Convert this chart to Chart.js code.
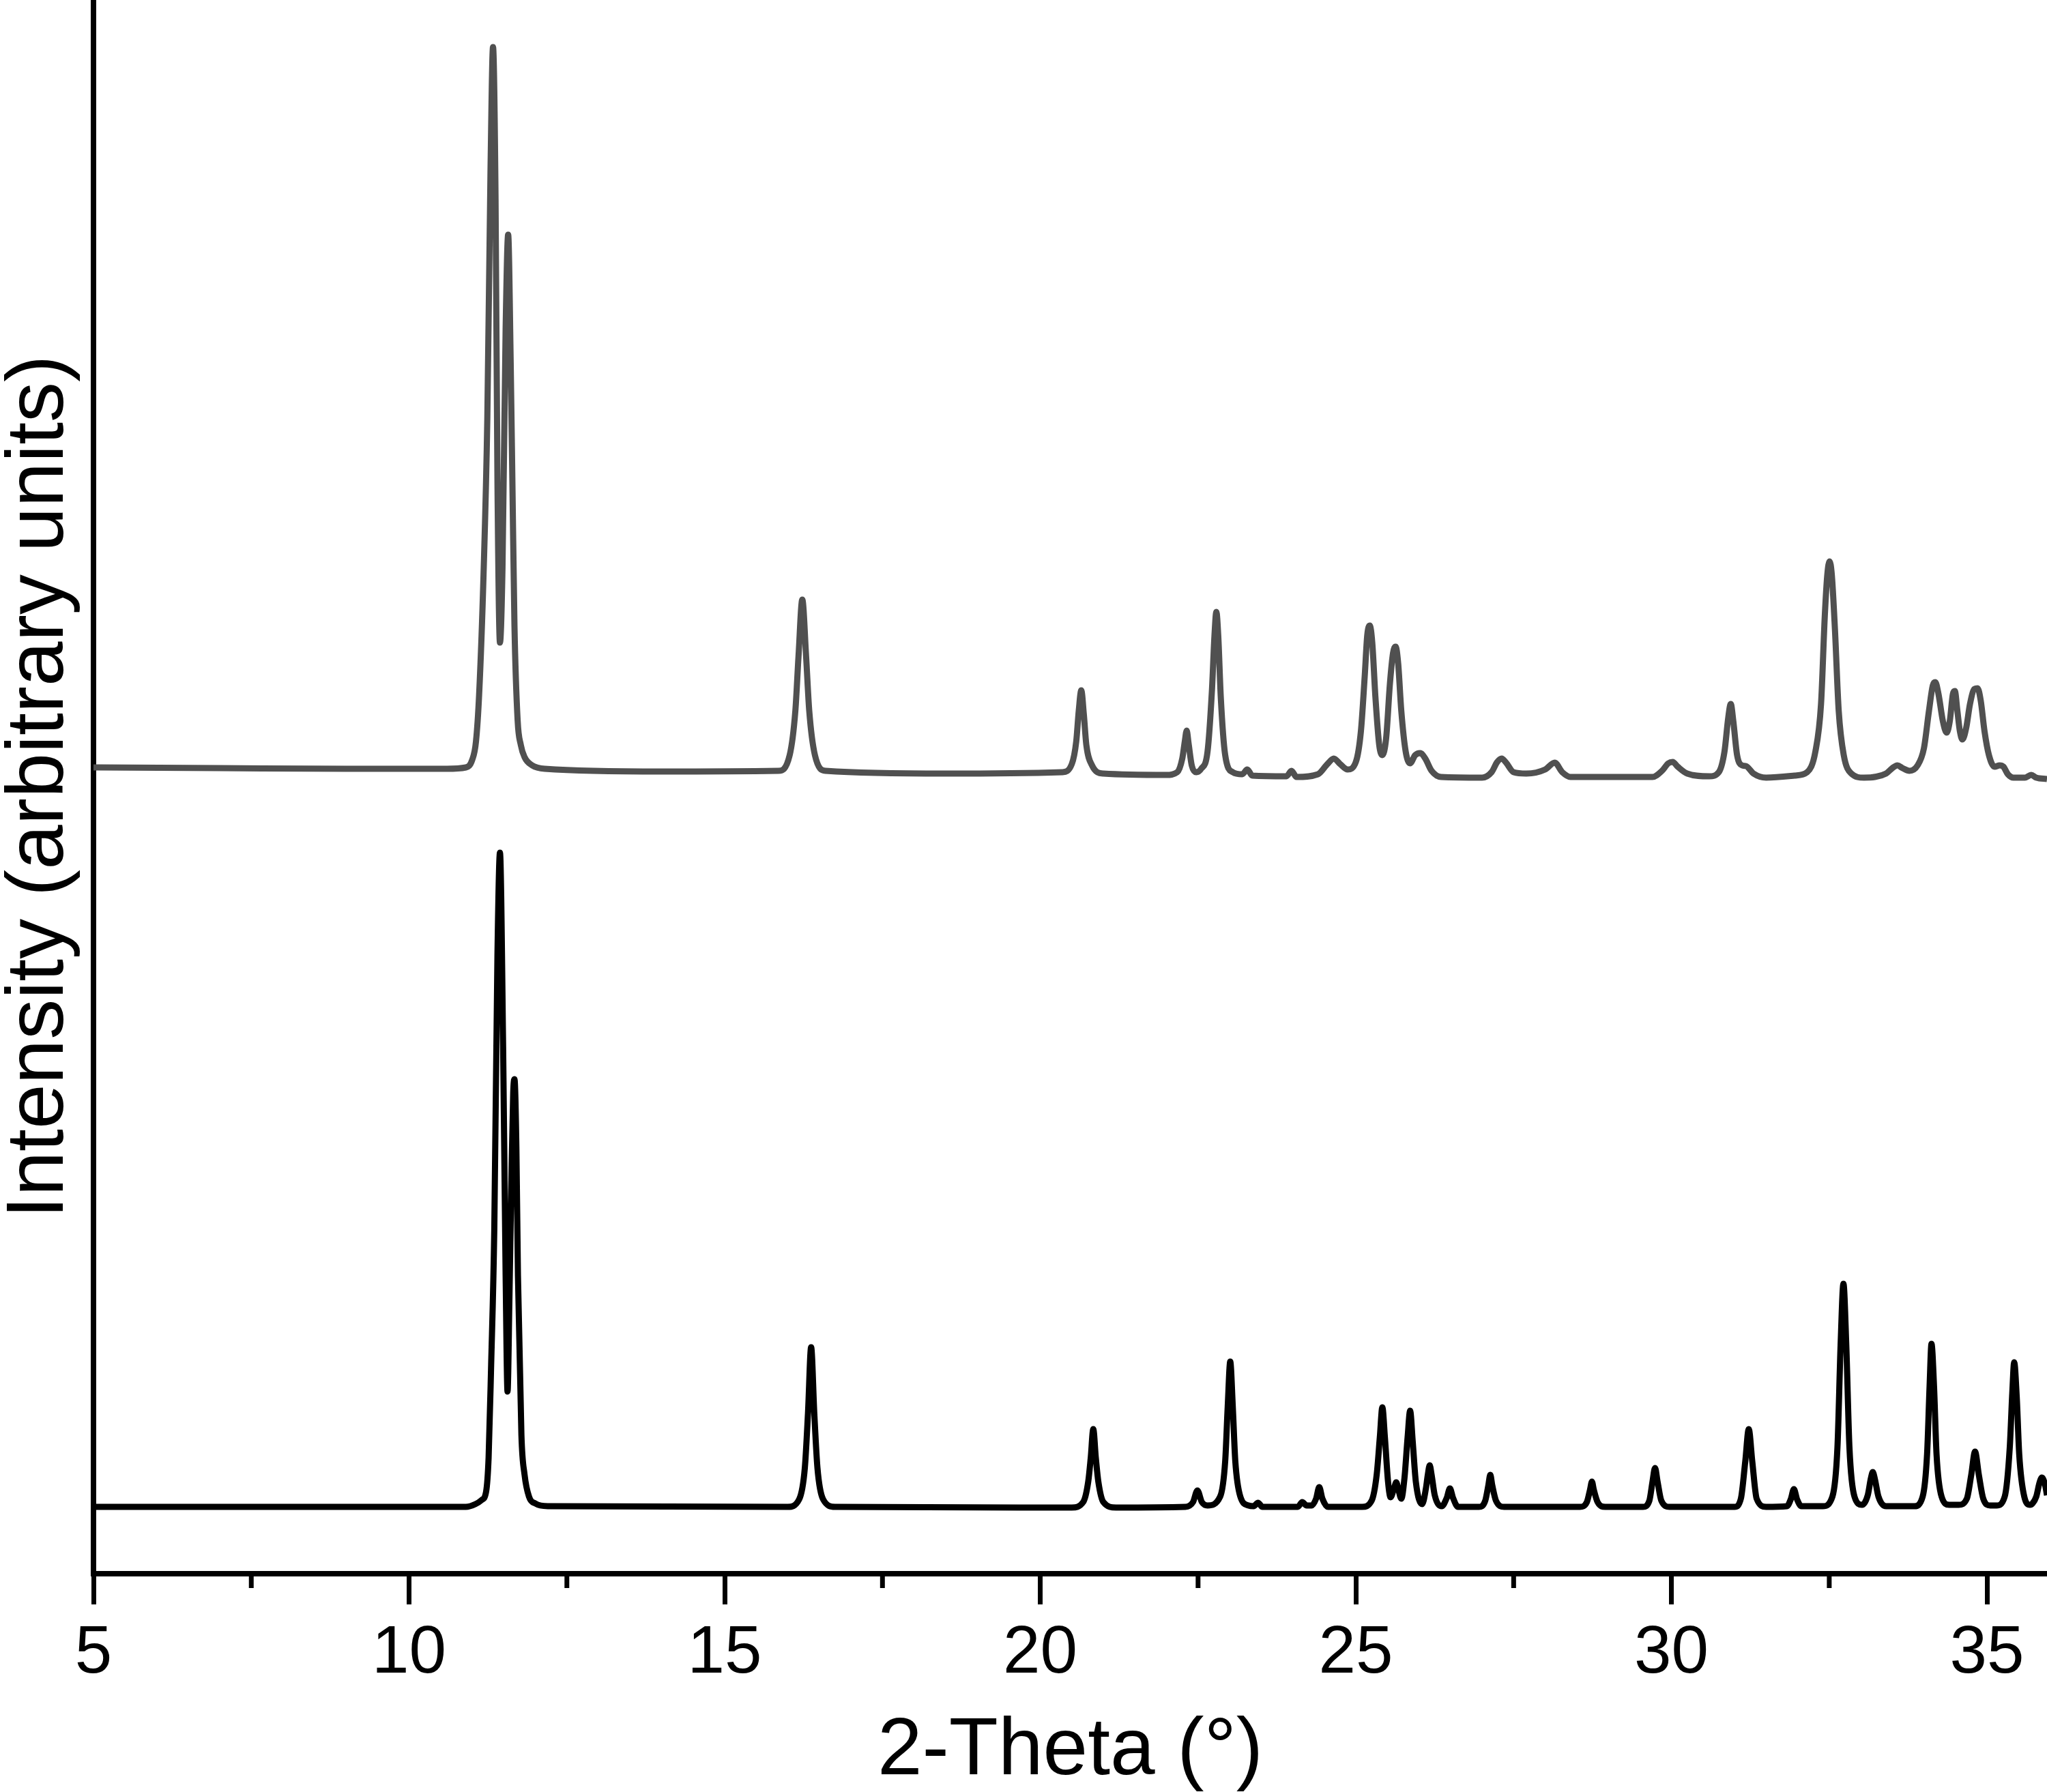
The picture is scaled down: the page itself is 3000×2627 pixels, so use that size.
<!DOCTYPE html>
<html>
<head>
<meta charset="utf-8">
<script src="https://cdn.jsdelivr.net/npm/chart.js@4"></script>
<style>
  html, body { margin: 0; padding: 0; background: #fff; }
  #xrd { display: block; }
</style>
</head>
<body>
<canvas id="xrd" width="3000" height="2627"></canvas>
<script>
// measured pattern (grey, drawn above)
const expTheta = [5.0, 7.0, 9.0, 10.6, 10.9, 11.0, 11.06, 11.11, 11.18, 11.24, 11.29, 11.33, 11.37, 11.40, 11.44, 11.48, 11.53, 11.57, 11.61, 11.64, 11.67, 11.72, 11.77, 11.83, 11.95, 12.15, 14.0,
  15.85, 16.03, 16.12, 16.17, 16.23, 16.29, 16.34, 16.43, 16.6, 18.5,
  20.35, 20.5, 20.57, 20.61, 20.65, 20.69, 20.73, 20.82, 21.0, 22.0,
  22.17, 22.25, 22.29, 22.32, 22.35, 22.40, 22.47, 22.55, 22.65, 22.72, 22.76, 22.79, 22.82, 22.86, 22.93, 23.05, 23.2, 23.28, 23.36, 23.9, 23.98, 24.06,
  24.4, 24.55, 24.65, 24.75, 24.87, 25.0, 25.08, 25.14, 25.18, 25.22, 25.26, 25.31, 25.37, 25.42, 25.48, 25.54, 25.59, 25.63, 25.67, 25.72, 25.79, 25.86, 25.94, 26.02, 26.1, 26.2, 26.35,
  27.0, 27.15, 27.24, 27.31, 27.38, 27.5, 27.7, 28.0, 28.15, 28.27, 28.4, 29.7, 29.85, 29.95, 30.02, 30.1, 30.25, 30.6,
  30.75, 30.84, 30.9, 30.94, 30.98, 31.04, 31.12, 31.18, 31.3, 31.5, 31.95, 32.15, 32.28, 32.37, 32.43, 32.47, 32.505, 32.54, 32.59, 32.65, 32.73, 32.85, 33.05,
  33.4, 33.5, 33.58, 33.66, 33.77, 33.9, 34.0, 34.08, 34.14, 34.18, 34.23, 34.3, 34.36, 34.41, 34.46, 34.49, 34.53, 34.57, 34.61, 34.67, 34.73, 34.8, 34.85, 34.9, 34.96, 35.03,
  35.12, 35.2, 35.26, 35.33, 35.42, 35.6, 35.7, 35.78, 35.95];
const expIntensity = [1177, 1176, 1175, 1175, 1177, 1188, 1215, 1284, 1460, 1690, 2050, 2233, 2010, 1600, 1360, 1470, 1820, 1958, 1770, 1575, 1384, 1246, 1210, 1192, 1180, 1175, 1171,
  1172, 1195, 1260, 1340, 1423, 1340, 1260, 1195, 1172, 1168,
  1170, 1182, 1215, 1260, 1290, 1255, 1210, 1180, 1168, 1166,
  1170, 1190, 1215, 1231, 1212, 1180, 1170, 1175, 1200, 1290, 1370, 1405, 1370, 1280, 1195, 1170, 1167, 1174, 1165, 1164, 1172, 1163,
  1167, 1182, 1190, 1182, 1174, 1185, 1230, 1310, 1370, 1385, 1360, 1280, 1210, 1195, 1220, 1300, 1345, 1354, 1330, 1260, 1200, 1183, 1195, 1198, 1190, 1172, 1163,
  1162, 1170, 1185, 1190, 1184, 1170, 1168, 1174, 1184, 1170, 1163, 1163, 1172, 1183, 1185, 1178, 1168, 1164,
  1170, 1200, 1250, 1270, 1245, 1195, 1180, 1179, 1168, 1162, 1165, 1170, 1200, 1270, 1400, 1460, 1479, 1460, 1380, 1260, 1195, 1168, 1162,
  1168, 1176, 1180, 1176, 1172, 1180, 1205, 1260, 1297, 1302, 1285, 1245, 1228, 1245, 1285, 1289, 1260, 1230, 1218, 1235, 1270, 1292, 1293, 1275, 1230, 1195,
  1178, 1180, 1178, 1167, 1162, 1162, 1166, 1162, 1160];

// simulated pattern (black, drawn below)
const simTheta = [5.0, 10.9, 11.05, 11.15, 11.22, 11.26, 11.30, 11.35, 11.40, 11.44, 11.49, 11.53, 11.56, 11.59, 11.62, 11.65, 11.67, 11.70, 11.725, 11.78, 11.83, 11.9, 12.0, 12.2,
  16.0, 16.18, 16.27, 16.32, 16.37, 16.42, 16.47, 16.56, 16.75,
  20.5, 20.68, 20.76, 20.80, 20.84, 20.88, 20.92, 21.0, 21.2,
  22.3, 22.42, 22.49, 22.56, 22.65, 22.85, 22.93, 22.97, 23.01, 23.05, 23.09, 23.17, 23.3, 23.38, 23.45, 23.52,
  24.08, 24.15, 24.22, 24.3, 24.37, 24.42, 24.47, 24.56,
  25.1, 25.25, 25.33, 25.38, 25.42, 25.46, 25.51, 25.55, 25.61, 25.64, 25.67, 25.72, 25.77, 25.82, 25.86, 25.90, 25.95, 26.05, 26.11, 26.14, 26.17, 26.20, 26.25, 26.36, 26.44, 26.49, 26.54, 26.62,
  26.95, 27.05, 27.10, 27.13, 27.16, 27.22, 27.35,
  28.55, 28.66, 28.71, 28.74, 28.77, 28.83, 28.95,
  29.55, 29.65, 29.70, 29.74, 29.78, 29.84, 29.97,
  31.0, 31.1, 31.17, 31.225, 31.28, 31.35, 31.5, 31.83, 31.89, 31.94, 31.99, 32.06,
  32.4, 32.55, 32.63, 32.68, 32.725, 32.77, 32.82, 32.9, 33.02, 33.11, 33.16, 33.19, 33.22, 33.28, 33.4,
  33.85, 33.98, 34.05, 34.09, 34.12, 34.16, 34.20, 34.28, 34.4, 34.55, 34.68, 34.75, 34.81, 34.87, 34.94, 35.05,
  35.15, 35.28, 35.36, 35.40, 35.43, 35.47, 35.51, 35.59, 35.68, 35.72, 35.78, 35.83, 35.87, 35.92, 35.95];
const simIntensity = [93, 93, 97, 103, 115, 165, 300, 499, 900, 1052, 767, 432, 262, 400, 566, 700, 720, 620, 432, 198, 140, 108, 98, 94,
  93, 104, 150, 230, 327, 230, 150, 104, 93,
  92, 100, 130, 165, 207, 165, 130, 100, 92,
  93, 100, 117, 100, 95, 108, 160, 240, 306, 240, 160, 108, 95, 94, 99, 93,
  93, 100, 95, 95, 105, 122, 105, 93,
  93, 102, 140, 195, 239, 195, 130, 107, 122, 129, 120, 105, 135, 195, 234, 190, 130, 97, 120, 140, 154, 140, 110, 94, 106, 120, 106, 93,
  93, 102, 125, 140, 125, 102, 93,
  93, 100, 118, 130, 118, 100, 93,
  93, 102, 130, 150, 130, 102, 93,
  93, 105, 160, 207, 160, 105, 93, 94, 104, 119, 104, 94,
  94, 108, 180, 330, 420, 330, 180, 108, 96, 110, 135, 144, 135, 108, 94,
  94, 108, 170, 270, 332, 270, 170, 108, 96, 96, 105, 140, 174, 140, 105, 95,
  95, 108, 180, 260, 305, 255, 170, 108, 96, 98, 108, 128, 136, 125, 110];

const majorTicks = [5, 10, 15, 20, 25, 30, 35];
const minorTicks = [7.5, 12.5, 17.5, 22.5, 27.5, 32.5];

function toPoints(xs, ys) {
  return xs.map((x, i) => ({ x: x, y: ys[i] }));
}

// short unlabelled ticks between the labelled ones
const minorTickPlugin = {
  id: 'minorTicks',
  afterDraw(chart) {
    const xs = chart.scales.x;
    const c = chart.ctx;
    c.save();
    c.strokeStyle = '#000';
    c.lineWidth = 7;
    minorTicks.forEach(v => {
      const px = xs.getPixelForValue(v);
      c.beginPath();
      c.moveTo(px, xs.top + 4);
      c.lineTo(px, xs.top + 21);
      c.stroke();
    });
    c.restore();
  }
};

const ctx = document.getElementById('xrd').getContext('2d');

const xrdChart = new Chart(ctx, {
  type: 'line',
  data: {
    datasets: [{
      label: 'Experimental',
      data: toPoints(expTheta, expIntensity),
      borderColor: '#505050',
      borderWidth: 9,
      pointRadius: 0,
      cubicInterpolationMode: 'monotone',
      fill: false
    }, {
      label: 'Simulated',
      data: toPoints(simTheta, simIntensity),
      borderColor: '#000000',
      borderWidth: 9,
      pointRadius: 0,
      cubicInterpolationMode: 'monotone',
      fill: false
    }]
  },
  options: {
    responsive: false,
    animation: false,
    devicePixelRatio: 1,
    layout: { padding: 0 },
    plugins: {
      legend: { display: false },
      tooltip: { enabled: false }
    },
    scales: {
      x: {
        type: 'linear',
        min: 5,
        max: 35.95,
        afterFit(s) { s.height = 320; },
        afterBuildTicks(s) { s.ticks = majorTicks.map(v => ({ value: v })); },
        ticks: {
          autoSkip: false,
          maxRotation: 0,
          padding: 14,
          color: '#000',
          font: { family: 'Liberation Sans', size: 98 }
        },
        grid: {
          drawOnChartArea: false,
          drawTicks: true,
          tickLength: 45,
          tickWidth: 7,
          tickColor: '#000'
        },
        border: { display: true, color: '#000', width: 8 },
        title: {
          display: true,
          text: '2-Theta (°)',
          color: '#000',
          font: { family: 'Liberation Sans', size: 118, lineHeight: 1 },
          padding: 0
        }
      },
      y: {
        min: -5,
        max: 2302,
        afterFit(s) { s.width = 137; },
        ticks: { display: false },
        grid: { display: false },
        border: { display: true, color: '#000', width: 8 },
        title: {
          display: true,
          text: 'Intensity (arbitrary units)',
          color: '#000',
          font: { family: 'Liberation Sans', size: 118, lineHeight: 1 },
          padding: 0
        }
      }
    }
  },
  plugins: [minorTickPlugin]
});
</script>
</body>
</html>
